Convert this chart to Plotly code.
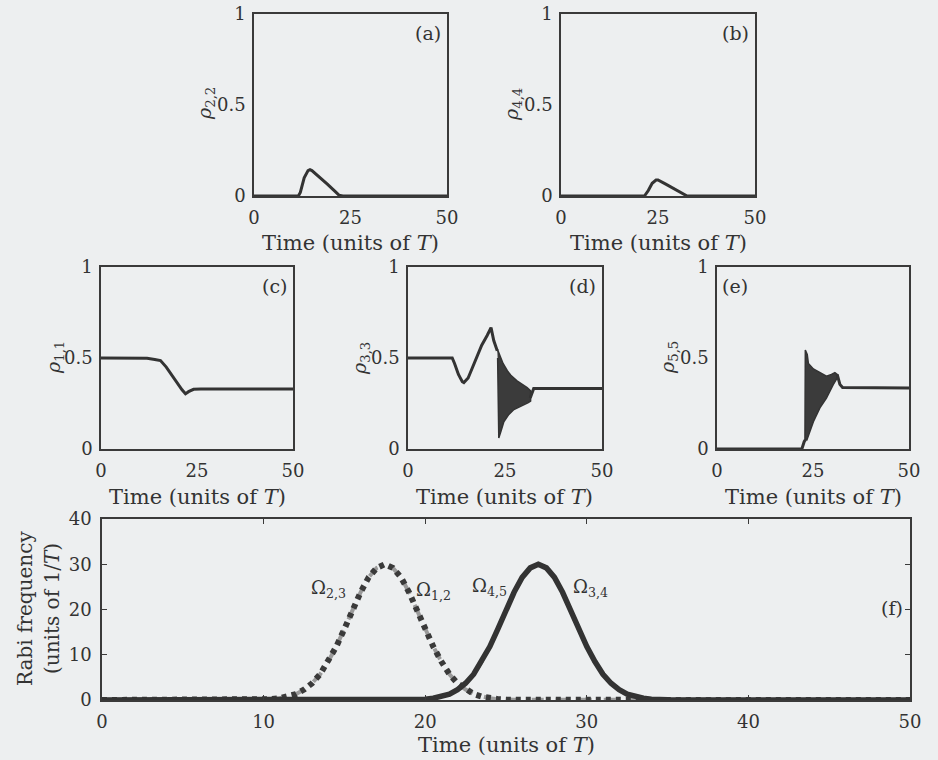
import plotly.graph_objects as go

W, H = 938, 760
BG = "#edeff0"
INK = "#333333"
FONT = "DejaVu Serif"

# ---------------- data ----------------
# (a) rho_22
t_a = [0, 11.5, 12, 13, 14, 14.5, 15, 17, 19, 21, 22, 23, 50]
rho22 = [0, 0, 0.02, 0.10, 0.14, 0.145, 0.14, 0.105, 0.065, 0.025, 0.005, 0, 0]
# (b) rho_44
t_b = [0, 21.5, 22.5, 23.5, 24.5, 25, 27, 29, 31, 32.5, 50]
rho44 = [0, 0, 0.03, 0.07, 0.088, 0.088, 0.065, 0.04, 0.015, 0, 0]
# (c) rho_11
t_c = [0, 10, 12, 14, 15.5, 17, 18.1, 19.8, 21.1, 22, 22.8, 24.1, 26, 50]
rho11 = [0.5, 0.5, 0.498, 0.492, 0.486, 0.45, 0.416, 0.37, 0.325, 0.303, 0.315, 0.328, 0.33, 0.33]
# (d) rho_33 (smooth part and after oscillation band)
t_d1 = [0, 11.4, 12, 13, 14, 14.4, 15.5, 17, 17.8, 19, 20.4, 21, 21.4, 22.1, 23.0]
rho33_1 = [0.5, 0.5, 0.47, 0.41, 0.37, 0.365, 0.39, 0.47, 0.504, 0.57, 0.624, 0.655, 0.667, 0.596, 0.54]
t_d2 = [31.5, 32.4, 50]
rho33_2 = [0.28, 0.333, 0.333]
# (d) oscillation envelope
t_d_up = [23.0, 23.4, 24.5, 25.6, 26.5, 28.1, 29.5, 30.7, 31.6]
rho33_up = [0.55, 0.53, 0.47, 0.43, 0.405, 0.374, 0.355, 0.337, 0.32]
t_d_lo = [23.1, 23.4, 24.0, 24.7, 26.0, 27.3, 28.5, 29.8, 31.0, 31.6]
rho33_lo = [0.5, 0.06, 0.10, 0.15, 0.19, 0.217, 0.232, 0.244, 0.255, 0.263]
# (e) rho_55
t_e1 = [0, 22.1, 22.7, 23.0]
rho55_1 = [0, 0, 0.04, 0.05]
t_e2 = [31.3, 32.0, 32.7, 50]
rho55_2 = [0.41, 0.355, 0.338, 0.335]
t_e_up = [22.9, 23.0, 23.5, 23.8, 25.1, 26.8, 28.5, 29.8, 30.7, 31.3]
rho55_up = [0.05, 0.544, 0.52, 0.47, 0.44, 0.42, 0.40, 0.41, 0.42, 0.41]
t_e_lo = [22.9, 23.4, 25.1, 26.8, 28.5, 30.3, 31.3]
rho55_lo = [0.05, 0.05, 0.15, 0.226, 0.28, 0.355, 0.39]

# (f) Rabi frequencies
t_p1 = [0, 9.5, 10, 10.5, 11, 11.5, 12, 12.5, 13, 13.5, 14, 14.5, 15, 15.5, 16, 16.5, 17, 17.5,
        18, 18.5, 19, 19.5, 20, 20.5, 21, 21.5, 22, 22.5, 23, 23.5, 24, 24.5, 25, 25.5, 50]
omega_p1 = [0, 0.04, 0.09, 0.19, 0.38, 0.73, 1.3, 2.3, 3.7, 5.7, 8.5, 11.8, 15.7, 19.8, 23.8, 27.1, 29.2, 30,
            29.2, 27.1, 23.8, 19.8, 15.7, 11.8, 8.5, 5.7, 3.7, 2.3, 1.3, 0.73, 0.38, 0.19, 0.09, 0.04, 0]
t_p2 = [0, 19, 19.5, 20, 20.5, 21, 21.5, 22, 22.5, 23, 23.5, 24, 24.5, 25, 25.5, 26, 26.5, 27,
        27.5, 28, 28.5, 29, 29.5, 30, 30.5, 31, 31.5, 32, 32.5, 33, 33.5, 34, 34.5, 35, 50]
omega_p2 = [0, 0.04, 0.09, 0.19, 0.38, 0.73, 1.3, 2.3, 3.7, 5.7, 8.5, 11.8, 15.7, 19.8, 23.8, 27.1, 29.2, 30,
            29.2, 27.1, 23.8, 19.8, 15.7, 11.8, 8.5, 5.7, 3.7, 2.3, 1.3, 0.73, 0.38, 0.19, 0.09, 0.04, 0]

small_xticks = [0, 25, 50]
small_yticks = [0, 0.5, 1]
small_yticklabels = ["0", "0.5", "1"]
f_xticks = [0, 10, 20, 30, 40, 50]
f_yticks = [0, 10, 20, 30, 40]

# ---------------- layout geometry (target page pixels) ----------------
panels = {
    "a": (254, 447, 14, 196),
    "b": (561, 755, 14, 196),
    "c": (101, 293, 267, 449),
    "d": (408, 602, 267, 449),
    "e": (717, 909, 267, 449),
    "f": (102, 910, 519, 700),
}
order = ["a", "b", "c", "d", "e", "f"]
PAGE_OFF = 0  # body margin removed by the post script below

def fx(p):
    return (p - PAGE_OFF) / W

def fy(p):
    return 1 - (p - PAGE_OFF) / H

fig = go.Figure()
layout = dict(width=W, height=H, autosize=False,
              margin=dict(l=0, r=0, t=0, b=0, pad=0, autoexpand=False),
              paper_bgcolor=BG, plot_bgcolor=BG, showlegend=False,
              font=dict(family=FONT, color=INK, size=20))
annotations = []

for i, key in enumerate(order):
    x0, x1, y0, y1 = panels[key]
    sfx = "" if i == 0 else str(i + 1)
    common = dict(showgrid=False, zeroline=False, automargin=False,
                  showline=True, linecolor="#3a3a3a", linewidth=1.6, mirror="ticks",
                  ticks="inside", ticklen=5, tickcolor="#3a3a3a", tickwidth=1.2,
                  tickfont=dict(family=FONT, size=18, color=INK))
    xa = dict(domain=[fx(x0), fx(x1)], anchor="y" + sfx, ticklabelstandoff=5, **common)
    ya = dict(domain=[fy(y1), fy(y0)], anchor="x" + sfx, **common)
    if key == "f":
        xa.update(range=[0, 50], tickvals=f_xticks)
        ya.update(range=[0, 40], tickvals=f_yticks, ticklabelstandoff=5)
    else:
        xa.update(range=[0, 50], tickvals=small_xticks, ticks="")
        ya.update(range=[0, 1], tickvals=small_yticks, ticktext=small_yticklabels, ticks="",
                  ticklabelstandoff=3)
    layout["xaxis" + sfx] = xa
    layout["yaxis" + sfx] = ya

def ax(key):
    i = order.index(key)
    return ("x", "y") if i == 0 else ("x" + str(i + 1), "y" + str(i + 1))

def line(key, x, y, width=3, color=INK, dash="solid"):
    xr, yr = ax(key)
    fig.add_trace(go.Scatter(x=x, y=y, mode="lines", xaxis=xr, yaxis=yr,
                             line=dict(color=color, width=width, dash=dash)))

def band(key, tu, vu, tl, vl):
    xr, yr = ax(key)
    fig.add_trace(go.Scatter(x=list(tu) + list(tl)[::-1], y=list(vu) + list(vl)[::-1],
                             mode="lines", fill="toself", fillcolor="#3b3b3b",
                             xaxis=xr, yaxis=yr, line=dict(color="#333333", width=1.5)))

line("a", t_a, rho22)
line("b", t_b, rho44)
line("c", t_c, rho11)
line("d", t_d1, rho33_1)
band("d", t_d_up, rho33_up, t_d_lo, rho33_lo)
line("d", t_d2, rho33_2)
line("e", t_e1, rho55_1)
band("e", t_e_up, rho55_up, t_e_lo, rho55_lo)
line("e", t_e2, rho55_2)

# panel f
line("f", t_p1, omega_p1, width=4, color="#9a9a9a", dash="dash")     # Omega_23
line("f", t_p1, omega_p1, width=6, color="#3a3a3a", dash="5px,5px")  # Omega_12
line("f", t_p2, omega_p2, width=4, color="#8a8a8a", dash="dash")     # Omega_45
line("f", t_p2, omega_p2, width=5.5, color="#333333")                # Omega_34

def ann(text, px, py, size=20, angle=0, xanchor="center", yanchor="middle", family=FONT):
    annotations.append(dict(text=text, x=fx(px), y=fy(py), xref="paper", yref="paper",
                            showarrow=False, font=dict(family=family, size=size, color=INK),
                            textangle=angle, xanchor=xanchor, yanchor=yanchor))

time_label = "Time (units of <i>T</i>)"
ann(time_label, 350, 243, size=21)
ann(time_label, 658, 243, size=21)
ann(time_label, 197, 497, size=21)
ann(time_label, 504, 497, size=21)
ann(time_label, 813, 497, size=21)
ann(time_label, 506, 745, size=21)

ann("<i>ρ</i><sub>2,2</sub>", 206, 104, size=19, angle=-90)
ann("<i>ρ</i><sub>4,4</sub>", 512, 105, size=19, angle=-90)
ann("<i>ρ</i><sub>1,1</sub>", 54, 358, size=19, angle=-90)
ann("<i>ρ</i><sub>3,3</sub>", 360, 359, size=19, angle=-90)
ann("<i>ρ</i><sub>5,5</sub>", 668, 358, size=19, angle=-90)

ann("(a)", 443, 33, size=19, xanchor="right")
ann("(b)", 751, 33, size=19, xanchor="right")
ann("(c)", 289, 286, size=19, xanchor="right")
ann("(d)", 598, 286, size=19, xanchor="right")
ann("(e)", 720, 286, size=19, xanchor="left")
ann("(f)", 905, 608, size=19, xanchor="right")

ann("Rabi frequency", 25, 609, angle=-90)
ann("(units of 1/<i>T</i>)", 52, 609, angle=-90)

ann("Ω<sub>2,3</sub>", 328, 589, size=18)
ann("Ω<sub>1,2</sub>", 433, 591, size=18)
ann("Ω<sub>4,5</sub>", 490, 587, size=18)
ann("Ω<sub>3,4</sub>", 590, 588, size=18)

layout["annotations"] = annotations
fig.update_layout(**layout)

post = ("document.body.style.margin='0';document.body.style.padding='0';"
        "document.body.style.background='%s';"
        "document.documentElement.style.background='%s';"
        "document.body.style.overflow='hidden';" % (BG, BG))
fig.write_html("out.html", post_script=post, config={"displayModeBar": False})
